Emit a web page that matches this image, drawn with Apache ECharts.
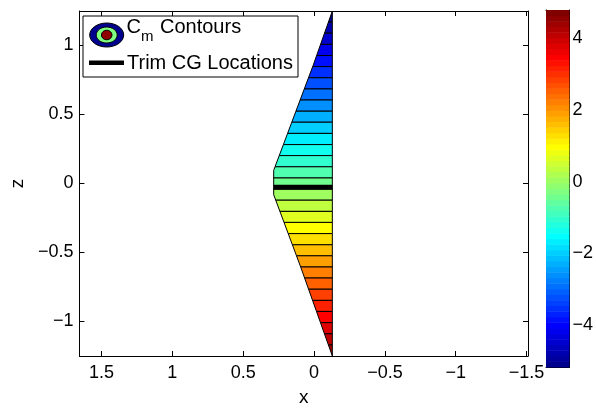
<!DOCTYPE html>
<html>
<head>
<meta charset="utf-8">
<script src="https://cdn.jsdelivr.net/npm/echarts@6/dist/echarts.min.js"></script>
<style>
  html, body { margin: 0; padding: 0; background: #fff; }
  #chart { width: 596px; height: 412px; }
</style>
</head>
<body>
<div id="chart"></div>
<script>
// contour band boundaries (z), top to bottom
const levelZ = [1.25, 1.169, 1.089, 1.008, 0.927, 0.847, 0.766, 0.685, 0.605, 0.524, 0.444,
  0.363, 0.282, 0.202, 0.121, 0.040, -0.040, -0.121, -0.202, -0.282, -0.363, -0.444,
  -0.524, -0.605, -0.685, -0.766, -0.847, -0.927, -1.008, -1.089, -1.169, -1.25];
// Cm level of each band (top to bottom)
const bandCm = [-5.17, -4.85, -4.53, -4.21, -3.88, -3.56, -3.24, -2.92, -2.60, -2.28, -1.96,
  -1.64, -1.31, -0.99, -0.67, -0.35, -0.03, 0.29, 0.61, 0.93, 1.26, 1.58, 1.90, 2.22,
  2.54, 2.86, 3.18, 3.50, 3.83, 4.15, 4.47];
// left edge of the contour region, top to bottom
const edgeX = [-0.129, 0.005, 0.285, 0.285, 0.093, -0.129];
const edgeZ = [1.25, 0.86, 0.095, -0.081, -0.609, -1.25];
const rightX = -0.129;
// trim CG line
const trimX = [0.285, -0.129];
const trimZ = [-0.028, -0.028];

const xTicks = [1.5, 1, 0.5, 0, -0.5, -1, -1.5];
const zTicks = [-1, -0.5, 0, 0.5, 1];
const cbTicks = [-4, -2, 0, 2, 4];
const cmRange = [-5.17, 4.79];

// matlab jet colormap
function jet(m) {
  const n = Math.ceil(m / 4);
  const u = [];
  for (let i = 1; i <= n; i++) u.push(i / n);
  for (let i = 1; i < n; i++) u.push(1);
  for (let i = n; i >= 1; i--) u.push(i / n);
  const g0 = Math.ceil(n / 2) - (m % 4 === 1 ? 1 : 0);
  const J = [];
  for (let i = 0; i < m; i++) J.push([0, 0, 0]);
  u.forEach((v, k) => {
    const g = g0 + k + 1, r = g + n, b = g - n;
    if (r >= 1 && r <= m) J[r - 1][0] = v;
    if (g >= 1 && g <= m) J[g - 1][1] = v;
    if (b >= 1 && b <= m) J[b - 1][2] = v;
  });
  return J.map(c => 'rgb(' + c.map(v => Math.round(v * 255)).join(',') + ')');
}
const cmap = jet(64);
function cmColor(v) {
  let i = Math.floor((v - cmRange[0]) / (cmRange[1] - cmRange[0]) * 64);
  return cmap[Math.max(0, Math.min(63, i))];
}

function leftX(z) {
  for (let k = 0; k < edgeZ.length - 1; k++) {
    const z0 = edgeZ[k], z1 = edgeZ[k + 1];
    if (z <= z0 && z >= z1) {
      const t = (z0 - z) / (z0 - z1);
      return edgeX[k] + t * (edgeX[k + 1] - edgeX[k]);
    }
  }
  return rightX;
}

const fmt = v => (v < 0 ? '\u2212' : '') + Math.abs(v);
const font = 'Liberation Sans, Arial, Helvetica, sans-serif';
const black = '#000';
const line = { onZero: false, lineStyle: { color: black, width: 1 } };

const chart = echarts.init(document.getElementById('chart'));
chart.setOption({
  backgroundColor: '#fff',
  animation: false,
  textStyle: { fontFamily: font },
  grid: [
    { left: 77, right: 68, top: 11, bottom: 46 },
    { left: 546, width: 25, top: 10, bottom: 45 }
  ],
  xAxis: [
    {
      type: 'value', gridIndex: 0, min: -1.51, max: 1.656, inverse: true,
      name: 'x', nameLocation: 'middle', nameGap: 32,
      nameTextStyle: { fontSize: 19, color: black, fontFamily: font },
      axisLine: line,
      axisTick: { inside: true, length: 5, customValues: xTicks, lineStyle: { color: black } },
      axisLabel: { customValues: xTicks, formatter: fmt, fontSize: 18, color: black, margin: 8, fontFamily: font },
      splitLine: { show: false }
    },
    {
      type: 'value', gridIndex: 0, position: 'top', min: -1.51, max: 1.656, inverse: true,
      axisLine: line,
      axisTick: { inside: true, length: 5, customValues: xTicks, lineStyle: { color: black } },
      axisLabel: { show: false },
      splitLine: { show: false }
    },
    {
      type: 'value', gridIndex: 1, min: 0, max: 1,
      axisLine: line,
      axisTick: { show: false }, axisLabel: { show: false }, splitLine: { show: false }
    },
    {
      type: 'value', gridIndex: 1, position: 'top', min: 0, max: 1,
      axisLine: line,
      axisTick: { show: false }, axisLabel: { show: false }, splitLine: { show: false }
    }
  ],
  yAxis: [
    {
      type: 'value', gridIndex: 0, min: -1.25, max: 1.25,
      name: 'z', nameLocation: 'middle', nameGap: 52,
      nameTextStyle: { fontSize: 19, color: black, fontFamily: font },
      axisLine: line,
      axisTick: { inside: true, length: 5, customValues: zTicks, lineStyle: { color: black } },
      axisLabel: { customValues: zTicks, formatter: fmt, fontSize: 18, color: black, margin: 6, fontFamily: font },
      splitLine: { show: false }
    },
    {
      type: 'value', gridIndex: 0, position: 'right', min: -1.25, max: 1.25,
      axisLine: line,
      axisTick: { inside: true, length: 5, customValues: zTicks, lineStyle: { color: black } },
      axisLabel: { show: false },
      splitLine: { show: false }
    },
    {
      type: 'value', gridIndex: 1, position: 'right', min: cmRange[0], max: cmRange[1],
      axisLine: line,
      axisTick: { inside: true, length: 4, customValues: cbTicks, lineStyle: { color: black } },
      axisLabel: { customValues: cbTicks, formatter: fmt, fontSize: 18, color: black, margin: 3, fontFamily: font },
      splitLine: { show: false }
    },
    {
      type: 'value', gridIndex: 1, position: 'left', min: cmRange[0], max: cmRange[1],
      axisLine: line,
      axisTick: { inside: true, length: 4, customValues: cbTicks, lineStyle: { color: black } },
      axisLabel: { show: false },
      splitLine: { show: false }
    }
  ],
  series: [
    {
      type: 'custom',
      name: 'Cm Contours',
      xAxisIndex: 0, yAxisIndex: 0,
      data: bandCm.map((v, i) => [i, v]),
      renderItem: (params, api) => {
        const i = params.dataIndex;
        const zt = levelZ[i], zb = levelZ[i + 1];
        const pts = [[rightX, zt], [leftX(zt), zt]];
        for (let k = 0; k < edgeZ.length; k++) {
          if (edgeZ[k] < zt && edgeZ[k] > zb) pts.push([edgeX[k], edgeZ[k]]);
        }
        pts.push([leftX(zb), zb], [rightX, zb]);
        return {
          type: 'polygon',
          shape: { points: pts.map(p => api.coord(p)) },
          style: { fill: cmColor(bandCm[i]), stroke: black, lineWidth: 1 }
        };
      }
    },
    {
      type: 'line',
      name: 'Trim CG Locations',
      xAxisIndex: 0, yAxisIndex: 0,
      data: trimX.map((x, i) => [x, trimZ[i]]),
      symbol: 'none',
      lineStyle: { color: black, width: 5 }
    },
    {
      type: 'custom',
      name: 'colorbar',
      xAxisIndex: 2, yAxisIndex: 2,
      data: cmap.map((c, i) => [i]),
      renderItem: (params, api) => {
        const i = params.dataIndex;
        const step = (cmRange[1] - cmRange[0]) / 64;
        const p0 = api.coord([0, cmRange[0] + i * step]);
        const p1 = api.coord([1, cmRange[0] + (i + 1) * step]);
        return {
          type: 'rect',
          shape: { x: p0[0], y: p1[1], width: p1[0] - p0[0], height: p0[1] - p1[1] + 0.5 },
          style: { fill: cmap[i] }
        };
      },
      z: 1
    }
  ],
  graphic: [
    { type: 'rect', shape: { x: 83, y: 16, width: 215, height: 61 },
      style: { fill: '#fff', stroke: black, lineWidth: 1 }, z: 100 },
    { type: 'ellipse', shape: { cx: 106.7, cy: 35, rx: 17, ry: 12 },
      style: { fill: 'rgb(0,0,143)', stroke: black, lineWidth: 1 }, z: 101 },
    { type: 'ellipse', shape: { cx: 106.7, cy: 35, rx: 10.5, ry: 8 },
      style: { fill: 'rgb(128,255,128)', stroke: black, lineWidth: 1 }, z: 102 },
    { type: 'ellipse', shape: { cx: 106.7, cy: 35, rx: 5.3, ry: 4.8 },
      style: { fill: 'rgb(143,0,0)', stroke: black, lineWidth: 1 }, z: 103 },
    { type: 'text', x: 126.5, y: 27.5, z: 104,
      style: { text: 'C', font: '20px ' + font, fill: black, verticalAlign: 'middle' } },
    { type: 'text', x: 141, y: 37, z: 104,
      style: { text: 'm', font: '15px ' + font, fill: black, verticalAlign: 'middle' } },
    { type: 'text', x: 160, y: 27.5, z: 104,
      style: { text: 'Contours', font: '20px ' + font, fill: black, verticalAlign: 'middle' } },
    { type: 'line', shape: { x1: 89, y1: 62.7, x2: 124, y2: 62.7 },
      style: { stroke: black, lineWidth: 4.5 }, z: 104 },
    { type: 'text', x: 127, y: 63, z: 104,
      style: { text: 'Trim CG Locations', font: '20px ' + font, fill: black, verticalAlign: 'middle' } }
  ]
});
</script>
</body>
</html>
